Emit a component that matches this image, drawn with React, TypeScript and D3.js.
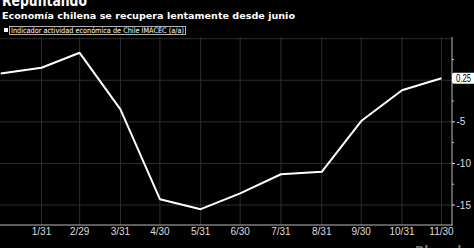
import React from "react";
import * as d3 from "d3";

const months: string[] = [
  "2019-12-31", "2020-01-31", "2020-02-29", "2020-03-31", "2020-04-30", "2020-05-31",
  "2020-06-30", "2020-07-31", "2020-08-31", "2020-09-30", "2020-10-31", "2020-11-30",
];
const imacec: number[] = [0.8, 1.5, 3.3, -3.5, -14.3, -15.5, -13.6, -11.3, -11.0, -4.9, -1.2, 0.25];
const xTickLabels: string[] = ["1/31", "2/29", "3/31", "4/30", "5/31", "6/30", "7/31", "8/31", "9/30", "10/31", "11/30"];
const yLabelTicks: number[] = [-5, -10, -15];
const yMajorTicks: number[] = [0, -5, -10, -15];
const yMinorTicks: number[] = [2.5, -2.5, -7.5, -12.5];
const yGridTicks: number[] = [5, 0, -5, -10, -15];

const W = 474;
const H = 248;

export default function App() {
  const parse = d3.timeParse("%Y-%m-%d");
  const dates = months.map((m) => parse(m) as Date);
  const x = d3
    .scaleTime()
    .domain([new Date(2019, 11, 31), new Date(2020, 11, 8)])
    .range([0.7, 452]);
  const y = d3.scaleLinear().domain([-17.4, 5.2]).range([225, 37]);
  const line = d3
    .line<number>()
    .x((_, i) => x(dates[i]))
    .y((d) => y(d));
  const tickDates = dates.slice(1);
  const last = imacec[imacec.length - 1];
  const font = "'DejaVu Sans', Verdana, sans-serif";
  const tickFont = "'Liberation Sans', Arial, sans-serif";

  return (
    <div style={{ position: "fixed", left: 0, top: 0, width: W, height: H, background: "#000" }}>
      <svg width={W} height={H} style={{ display: "block", background: "#000" }}>
        <rect x={0} y={0} width={W} height={H} fill="#000" />
        <text x={2} y={5.5} fill="#fff" fontFamily={font} fontWeight="bold" fontSize={15} textLength={85} lengthAdjust="spacingAndGlyphs">
          Repuntando
        </text>
        <text x={2} y={18.5} fill="#fff" fontFamily={font} fontWeight="bold" fontSize={9.5} textLength={293} lengthAdjust="spacingAndGlyphs">
          Economía chilena se recupera lentamente desde junio
        </text>
        <rect x={4} y={28} width={4} height={4} fill="#fff" />
        <rect x={9.5} y={26.5} width={176} height={8} fill="#000" stroke="#ddd" strokeWidth={0.8} />
        <text x={11} y={33} fill="#fff" fontFamily={font} fontSize={7.5} textLength={173} lengthAdjust="spacingAndGlyphs">
          Indicador actividad económica de Chile IMACEC (a/a)
        </text>
        {yGridTicks.map((t) => (
          <line key={"hg" + t} x1={0} x2={452} y1={y(t)} y2={y(t)} stroke="#2e2e2e" strokeWidth={1} />
        ))}
        {tickDates.map((d, i) => (
          <line key={"vg" + i} x1={x(d)} x2={x(d)} y1={37} y2={225} stroke="#2e2e2e" strokeWidth={1} />
        ))}
        <line x1={0} x2={452.5} y1={225} y2={225} stroke="#bbb" strokeWidth={1} />
        <line x1={452} x2={452} y1={37} y2={225.5} stroke="#bbb" strokeWidth={1} />
        {yMinorTicks.map((t) => (
          <line key={"mt" + t} x1={452} x2={454} y1={y(t)} y2={y(t)} stroke="#bbb" strokeWidth={1} />
        ))}
        {yMajorTicks.map((t) => (
          <line key={"yt" + t} x1={452} x2={455} y1={y(t)} y2={y(t)} stroke="#ddd" strokeWidth={1} />
        ))}
        {yLabelTicks.map((t) => (
          <text key={"yl" + t} x={456.5} y={y(t) + 3.5} fill="#ddd" fontFamily={tickFont} fontSize={10}>
            {"-" + Math.abs(t)}
          </text>
        ))}
        {tickDates.map((d, i) => (
          <text key={"xl" + i} x={x(d)} y={235} fill="#ddd" fontFamily={tickFont} fontSize={10} textAnchor="middle">
            {xTickLabels[i]}
          </text>
        ))}
        <path d={line(imacec) || ""} fill="none" stroke="#fff" strokeWidth={2} strokeLinejoin="round" />
        <rect x={452} y={y(last) - 5.5} width={26} height={11} rx={2} fill="#fff" />
        <text x={456} y={y(last) + 3.5} fill="#000" fontFamily={tickFont} fontSize={10} textLength={15} lengthAdjust="spacingAndGlyphs">
          {d3.format(".2f")(last)}
        </text>
        <text x={415} y={255} fill="#777" fontFamily={font} fontWeight="bold" fontSize={12}>
          Bloomberg
        </text>
      </svg>
    </div>
  );
}
